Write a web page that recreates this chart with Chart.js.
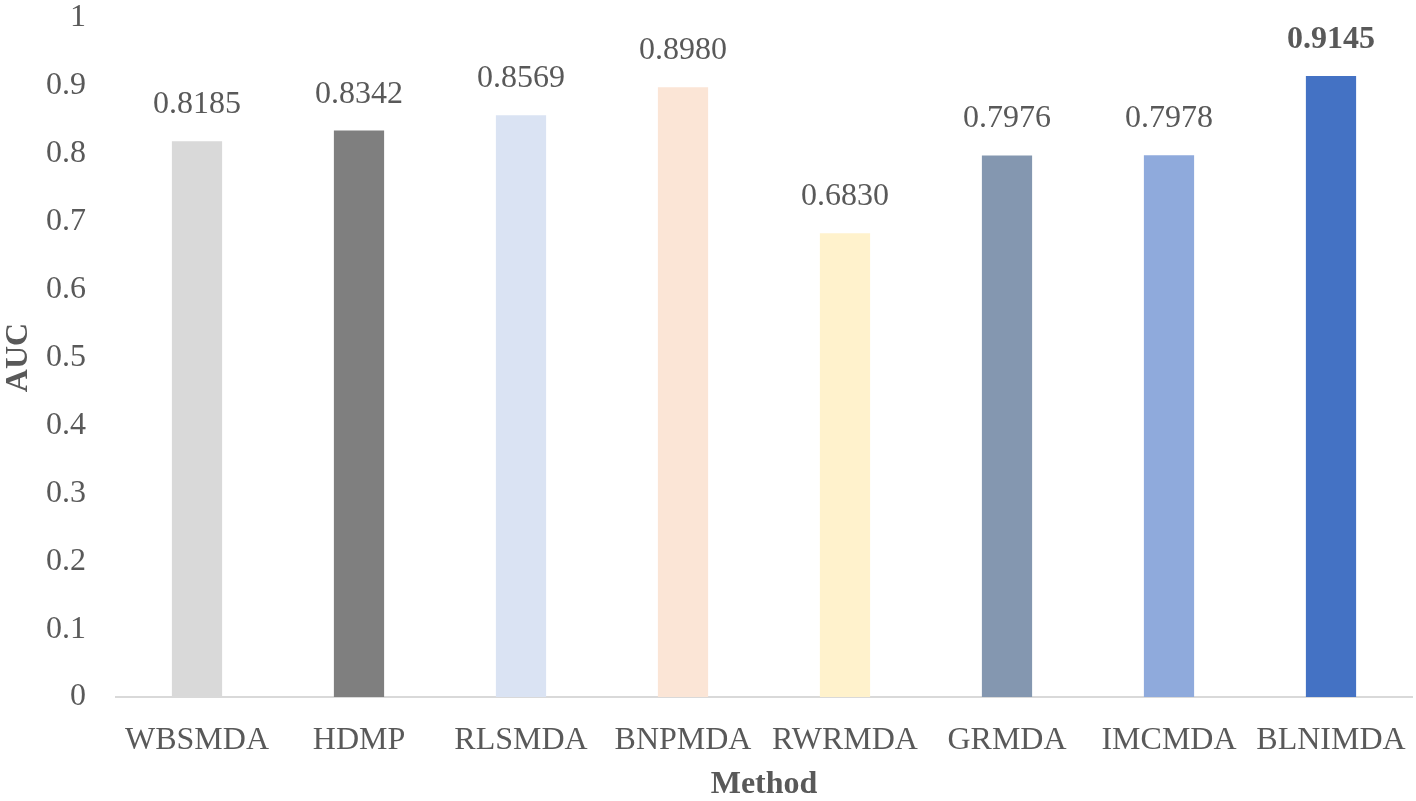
<!DOCTYPE html>
<html>
<head>
<meta charset="utf-8">
<script src="https://cdn.jsdelivr.net/npm/chart.js@4.4.1/dist/chart.umd.min.js"></script>
<style>
  html, body { margin: 0; padding: 0; background: #fff; }
  #wrap { width: 1416px; height: 801px; }
</style>
</head>
<body>
<div id="wrap"><canvas id="aucChart" width="1416" height="801"></canvas></div>
<script>
// data
const methods = ["WBSMDA", "HDMP", "RLSMDA", "BNPMDA", "RWRMDA", "GRMDA", "IMCMDA", "BLNIMDA"];
const aucValues = [0.8185, 0.8342, 0.8569, 0.8980, 0.6830, 0.7976, 0.7978, 0.9145];
const barColors = ["#d9d9d9", "#7f7f7f", "#dae3f3", "#fbe5d6", "#fff2cc", "#8497b0", "#8faadc", "#4472c4"];
const yTicks = [0, 0.1, 0.2, 0.3, 0.4, 0.5, 0.6, 0.7, 0.8, 0.9, 1];

const fontFam = '"Liberation Serif", "Times New Roman", serif';
const textColor = "#595959";

// value labels above bars, last one bold
const valueLabels = {
    id: "valueLabels",
    afterDatasetsDraw(chart) {
        const ctx = chart.ctx;
        const meta = chart.getDatasetMeta(0);
        ctx.save();
        ctx.fillStyle = textColor;
        ctx.textAlign = "center";
        ctx.textBaseline = "alphabetic";
        meta.data.forEach((bar, i) => {
            const bold = i === aucValues.length - 1;
            ctx.font = (bold ? "bold " : "") + "32px " + fontFam;
            ctx.fillText(aucValues[i].toFixed(4), bar.x, bar.y - 28);
        });
        ctx.restore();
    }
};

new Chart(document.getElementById("aucChart"), {
    type: "bar",
    data: {
        labels: methods,
        datasets: [{
            data: aucValues,
            backgroundColor: barColors,
            borderWidth: 0,
            categoryPercentage: 1,
            barPercentage: 0.31
        }]
    },
    options: {
        responsive: false,
        animation: false,
        layout: { padding: { top: 18, right: 4, left: 0, bottom: 0 } },
        plugins: {
            legend: { display: false },
            tooltip: { enabled: false }
        },
        scales: {
            x: {
                grid: { display: false, drawTicks: false },
                border: { color: "#d9d9d9", width: 2 },
                ticks: {
                    color: textColor,
                    padding: 24,
                    font: { family: fontFam, size: 32 },
                    maxRotation: 0
                },
                title: {
                    display: true,
                    text: "Method",
                    color: textColor,
                    font: { family: fontFam, size: 32, weight: "bold", lineHeight: 1 },
                    padding: { top: 6, bottom: 0 }
                },
                afterFit(scale) {
                    scale.height = 104;
                    scale.paddingLeft = 0;
                    scale.paddingRight = 0;
                }
            },
            y: {
                min: 0,
                max: 1,
                grid: { display: false, drawTicks: false },
                border: { display: false },
                afterBuildTicks(scale) {
                    scale.ticks = yTicks.map(v => ({ value: v }));
                },
                ticks: {
                    color: textColor,
                    padding: 30,
                    font: { family: fontFam, size: 32 },
                    callback: v => String(Math.round(v * 10) / 10)
                },
                title: {
                    display: true,
                    text: "AUC",
                    color: textColor,
                    font: { family: fontFam, size: 32, weight: "bold" },
                    padding: { top: 0, bottom: 0 }
                },
                afterFit(scale) {
                    scale.width = 116;
                    scale.paddingTop = 0;
                    scale.paddingBottom = 0;
                }
            }
        }
    },
    plugins: [valueLabels]
});
</script>
</body>
</html>
